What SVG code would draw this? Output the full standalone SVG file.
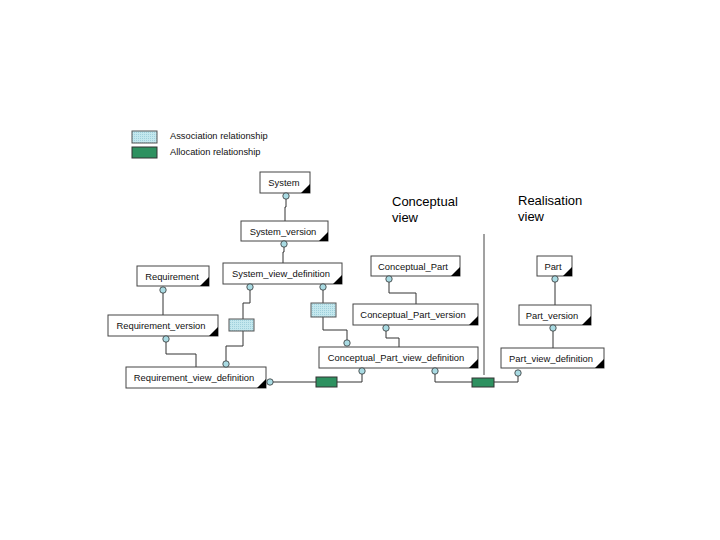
<svg xmlns="http://www.w3.org/2000/svg" width="720" height="540" viewBox="0 0 720 540">
<defs>
<style>
.box{fill:#fff;stroke:#444;stroke-width:1}
.tri{fill:#000}
.lbl{font-family:"Liberation Sans",Arial,sans-serif;font-size:9.4px;fill:#111;text-anchor:middle}
.hdr{font-family:"Liberation Sans",Arial,sans-serif;font-size:13px;fill:#000}
.leg{font-family:"Liberation Sans",Arial,sans-serif;font-size:9.3px;fill:#111}
.con{fill:none;stroke:#333;stroke-width:1}
.dot{fill:#a9dbe3;stroke:#333;stroke-width:0.8}
.assoc{fill:url(#hatch);stroke:#555;stroke-width:1}
.alloc{fill:#2e9160;stroke:#333;stroke-width:1}
</style>
<pattern id="hatch" width="2" height="2" patternUnits="userSpaceOnUse">
<rect width="2" height="2" fill="#c4e8ee"/>
<rect width="1" height="1" fill="#9fd0dc"/>
</pattern>
</defs>
<rect width="720" height="540" fill="#fff"/>

<g id="legend">
<rect class="assoc" x="132" y="131" width="25" height="12"/>
<text class="leg" x="170" y="139">Association relationship</text>
<rect class="alloc" x="132" y="147" width="25" height="11"/>
<text class="leg" x="170" y="155">Allocation relationship</text>
</g>

<g id="headers">
<text class="hdr" x="392" y="206">Conceptual</text>
<text class="hdr" x="392" y="222">view</text>
<text class="hdr" x="518" y="205">Realisation</text>
<text class="hdr" x="518" y="221">view</text>
<line x1="484" y1="234" x2="484" y2="375" stroke="#444" stroke-width="1"/>
</g>

<g id="connectors">
<polyline class="con" points="286,196 286,207 285,207 285,221"/>
<polyline class="con" points="284,244 284,252 283,252 283,263"/>
<polyline class="con" points="163,290 163,315"/>
<polyline class="con" points="166,339 166,354 196,354 196,367"/>
<polyline class="con" points="250,287 250,303 243,303 243,319"/>
<polyline class="con" points="243,331 243,346 226,346 226,364"/>
<polyline class="con" points="323,287 323,303"/>
<polyline class="con" points="323,317 323,330 347,330 347,343"/>
<polyline class="con" points="270,382 316,382"/>
<polyline class="con" points="337,382 362,382 362,371"/>
<polyline class="con" points="389,279 389,293 416,293 416,304"/>
<polyline class="con" points="386,328 386,338 399,338 399,347"/>
<polyline class="con" points="435,371 435,382 472,382"/>
<polyline class="con" points="494,382 518,382 518,373"/>
<polyline class="con" points="555,279 555,305"/>
<polyline class="con" points="553,328 553,348"/>
<rect class="assoc" x="229" y="319" width="25" height="12"/>
<rect class="assoc" x="311" y="303" width="25" height="14"/>
<rect class="alloc" x="316" y="377" width="21" height="10"/>
<rect class="alloc" x="472" y="378" width="22" height="9"/>
</g>

<g id="System">
<rect class="box" x="260" y="172" width="50" height="21"/>
<polygon class="tri" points="301,193 310,193 310,184"/>
<text class="lbl" x="284" y="186">System</text>
</g>
<g id="System_version">
<rect class="box" x="241" y="221" width="87" height="20"/>
<polygon class="tri" points="319,241 328,241 328,232"/>
<text class="lbl" x="283" y="235">System_version</text>
</g>
<g id="System_view_definition">
<rect class="box" x="223" y="263" width="119" height="21"/>
<polygon class="tri" points="333,284 342,284 342,275"/>
<text class="lbl" x="281" y="277">System_view_definition</text>
</g>
<g id="Requirement">
<rect class="box" x="137" y="266" width="72" height="20"/>
<polygon class="tri" points="200,286 209,286 209,277"/>
<text class="lbl" x="172" y="280">Requirement</text>
</g>
<g id="Requirement_version">
<rect class="box" x="108" y="315" width="110" height="21"/>
<polygon class="tri" points="209,336 218,336 218,327"/>
<text class="lbl" x="161" y="329">Requirement_version</text>
</g>
<g id="Requirement_view_definition">
<rect class="box" x="126" y="367" width="140" height="21"/>
<polygon class="tri" points="257,388 266,388 266,379"/>
<text class="lbl" x="194" y="381">Requirement_view_definition</text>
</g>
<g id="Conceptual_Part">
<rect class="box" x="371" y="256" width="89" height="20"/>
<polygon class="tri" points="451,276 460,276 460,267"/>
<text class="lbl" x="413" y="270">Conceptual_Part</text>
</g>
<g id="Conceptual_Part_version">
<rect class="box" x="353" y="304" width="125" height="21"/>
<polygon class="tri" points="469,325 478,325 478,316"/>
<text class="lbl" x="413" y="318">Conceptual_Part_version</text>
</g>
<g id="Conceptual_Part_view_definition">
<rect class="box" x="319" y="347" width="159" height="21"/>
<polygon class="tri" points="469,368 478,368 478,359"/>
<text class="lbl" x="396" y="361">Conceptual_Part_view_definition</text>
</g>
<g id="Part">
<rect class="box" x="537" y="256" width="35" height="20"/>
<polygon class="tri" points="563,276 572,276 572,267"/>
<text class="lbl" x="553" y="270">Part</text>
</g>
<g id="Part_version">
<rect class="box" x="519" y="305" width="72" height="20"/>
<polygon class="tri" points="582,325 591,325 591,316"/>
<text class="lbl" x="552" y="319">Part_version</text>
</g>
<g id="Part_view_definition">
<rect class="box" x="501" y="348" width="103" height="20"/>
<polygon class="tri" points="595,368 604,368 604,359"/>
<text class="lbl" x="551" y="362">Part_view_definition</text>
</g>

<g id="dots">
<circle class="dot" cx="286" cy="196" r="3.2"/>
<circle class="dot" cx="284" cy="244" r="3.2"/>
<circle class="dot" cx="163" cy="290" r="3.2"/>
<circle class="dot" cx="166" cy="339" r="3.2"/>
<circle class="dot" cx="250" cy="287" r="3.2"/>
<circle class="dot" cx="323" cy="287" r="3.2"/>
<circle class="dot" cx="226" cy="364" r="3.2"/>
<circle class="dot" cx="270" cy="382" r="3.2"/>
<circle class="dot" cx="347" cy="343" r="3.2"/>
<circle class="dot" cx="362" cy="371" r="3.2"/>
<circle class="dot" cx="435" cy="371" r="3.2"/>
<circle class="dot" cx="389" cy="279" r="3.2"/>
<circle class="dot" cx="386" cy="328" r="3.2"/>
<circle class="dot" cx="555" cy="279" r="3.2"/>
<circle class="dot" cx="553" cy="328" r="3.2"/>
<circle class="dot" cx="518" cy="373" r="3.2"/>
</g>
</svg>
